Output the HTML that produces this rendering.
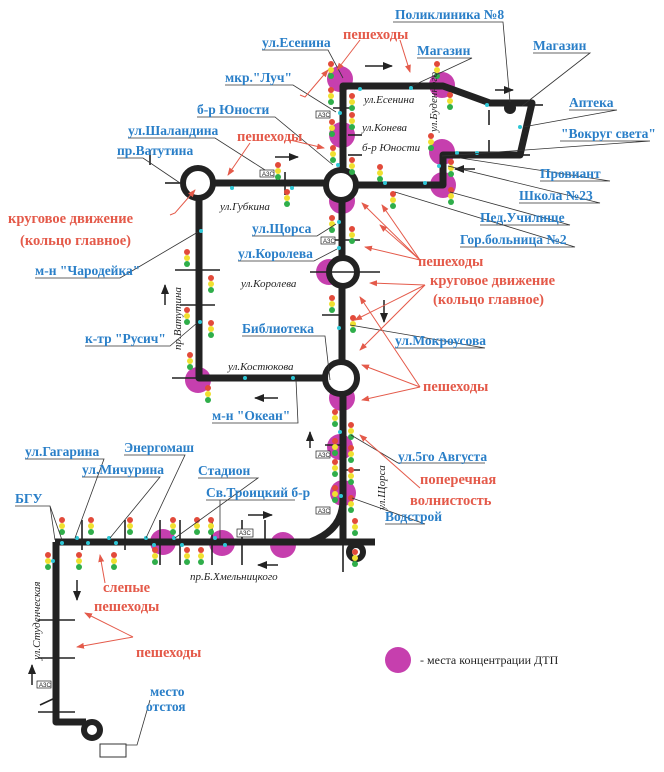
<!DOCTYPE html>
<html><head><meta charset="utf-8"><style>
body{margin:0;background:#fff}
svg{display:block}
.b{font-family:"Liberation Serif",serif;font-weight:bold;font-size:13.5px;fill:#2a7fc8}
.r{font-family:"Liberation Serif",serif;font-weight:bold;font-size:14.5px;fill:#e45a4a}
.i{font-family:"Liberation Serif",serif;font-style:italic;font-size:11px;fill:#222}
.ln{stroke:#333;stroke-width:0.8;fill:none}
.ra{stroke:#e45a4a;stroke-width:1;fill:none;marker-end:url(#ah)}
.rd{stroke:#222;stroke-width:7;fill:none;stroke-linejoin:round}
.cr{stroke:#222;stroke-width:1.6}
.m{fill:#c63fae}
.c{fill:#2ec7d6}
</style></head><body>
<svg width="664" height="772" viewBox="0 0 664 772" xmlns="http://www.w3.org/2000/svg">
<defs>
<marker id="ah" markerWidth="8" markerHeight="8" refX="7" refY="4" orient="auto" markerUnits="userSpaceOnUse"><path d="M0,1 L8,4 L0,7 Z" fill="#e45a4a"/></marker>
<marker id="bh" markerWidth="10" markerHeight="8" refX="9" refY="4" orient="auto" markerUnits="userSpaceOnUse"><path d="M0,0 L10,4 L0,8 Z" fill="#222"/></marker>
<g id="tl"><circle cx="0" cy="0" r="3" fill="#e24a3a"/><circle cx="0" cy="6" r="3" fill="#f0e030"/><circle cx="0" cy="12" r="3" fill="#2fae4a"/></g>
</defs>
<g class="m">
<circle cx="340" cy="79" r="13"/><circle cx="442" cy="85" r="13"/><circle cx="342" cy="135" r="13"/>
<circle cx="442" cy="152" r="13"/><circle cx="443" cy="185" r="13"/><circle cx="342" cy="201" r="13"/>
<circle cx="329" cy="272" r="13"/><circle cx="198" cy="380" r="13"/><circle cx="342" cy="398" r="13"/>
<circle cx="340" cy="447" r="13"/><circle cx="343" cy="493" r="13"/><circle cx="163" cy="542" r="13"/>
<circle cx="222" cy="543" r="13"/><circle cx="283" cy="545" r="13"/><circle cx="398" cy="660" r="13"/>
</g>
<g class="rd">
<path d="M343,185 V86 H443 L490,103 H532 L520,155 H443 V185 H340"/>
<path d="M198,183 H340"/>
<path d="M199,183 V378 H340"/>
<path d="M342,185 V378"/>
<path d="M343,378 V545"/>
<path d="M55,542 H375"/>
<path d="M310,542 Q343,530 343,500"/>
<path d="M56,542 V722 H86"/>
</g>
<g fill="#fff" stroke="#222" stroke-width="6">
<circle cx="198" cy="183" r="15"/><circle cx="341" cy="185" r="15"/><circle cx="343" cy="272" r="14"/>
<circle cx="341" cy="378" r="16"/><circle cx="92" cy="730" r="8"/><circle cx="356" cy="552" r="7"/>
</g>
<circle cx="510" cy="108" r="6" fill="#222"/>
<rect x="100" y="744" width="26" height="13" fill="#fff" stroke="#333"/>
<g class="cr">
<line x1="150" y1="165" x2="150" y2="150"/><line x1="165" y1="183" x2="180" y2="183"/><line x1="220" y1="183" x2="232" y2="183"/>
<line x1="285" y1="172" x2="285" y2="195"/><line x1="333" y1="108" x2="352" y2="108"/><line x1="348" y1="135" x2="362" y2="135"/>
<line x1="348" y1="155" x2="362" y2="155"/><line x1="330" y1="240" x2="360" y2="240"/><line x1="310" y1="272" x2="380" y2="272"/>
<line x1="322" y1="315" x2="342" y2="315"/><line x1="175" y1="270" x2="220" y2="270"/><line x1="180" y1="305" x2="215" y2="305"/>
<line x1="172" y1="378" x2="199" y2="378"/><line x1="489" y1="110" x2="489" y2="125"/><line x1="489" y1="140" x2="489" y2="155"/>
<line x1="534" y1="105" x2="543" y2="105"/><line x1="520" y1="155" x2="530" y2="155"/><line x1="325" y1="445" x2="342" y2="445"/>
<line x1="343" y1="470" x2="360" y2="470"/><line x1="82" y1="520" x2="82" y2="550"/><line x1="125" y1="520" x2="125" y2="550"/>
<line x1="160" y1="520" x2="160" y2="565"/><line x1="180" y1="520" x2="180" y2="565"/><line x1="212" y1="520" x2="212" y2="565"/>
<line x1="242" y1="520" x2="242" y2="565"/><line x1="265" y1="520" x2="265" y2="545"/><line x1="38" y1="620" x2="75" y2="620"/>
<line x1="38" y1="658" x2="75" y2="658"/><line x1="38" y1="712" x2="75" y2="712"/><line x1="40" y1="705" x2="55" y2="698"/>
<line x1="343" y1="545" x2="343" y2="572"/>
</g>
<g class="c">
<circle cx="340" cy="113" r="2"/><circle cx="360" cy="89" r="2"/><circle cx="411" cy="88" r="2"/><circle cx="487" cy="105" r="2"/>
<circle cx="520" cy="127" r="2"/><circle cx="457" cy="153" r="2"/><circle cx="477" cy="153" r="2"/><circle cx="439" cy="166" r="2"/>
<circle cx="425" cy="183" r="2"/><circle cx="385" cy="183" r="2"/><circle cx="338" cy="165" r="2"/><circle cx="292" cy="188" r="2"/>
<circle cx="232" cy="188" r="2"/><circle cx="201" cy="231" r="2"/><circle cx="200" cy="322" r="2"/><circle cx="245" cy="378" r="2"/>
<circle cx="293" cy="378" r="2"/><circle cx="339" cy="248" r="2"/><circle cx="339" cy="222" r="2"/><circle cx="339" cy="328" r="2"/>
<circle cx="340" cy="432" r="2"/><circle cx="341" cy="496" r="2"/><circle cx="77" cy="538" r="2"/><circle cx="88" cy="543" r="2"/>
<circle cx="109" cy="538" r="2"/><circle cx="116" cy="543" r="2"/><circle cx="146" cy="538" r="2"/><circle cx="62" cy="543" r="2"/>
<circle cx="154" cy="545" r="2"/><circle cx="174" cy="538" r="2"/><circle cx="182" cy="545" r="2"/><circle cx="215" cy="538" r="2"/><circle cx="225" cy="545" r="2"/><circle cx="53" cy="561" r="2"/>
</g>
<g>
<use href="#tl" x="331" y="64"/><use href="#tl" x="331" y="90"/><use href="#tl" x="352" y="96"/><use href="#tl" x="332" y="122"/>
<use href="#tl" x="352" y="115"/><use href="#tl" x="333" y="148"/><use href="#tl" x="352" y="160"/><use href="#tl" x="437" y="64"/>
<use href="#tl" x="450" y="95"/><use href="#tl" x="431" y="136"/><use href="#tl" x="451" y="162"/><use href="#tl" x="451" y="190"/>
<use href="#tl" x="380" y="167"/><use href="#tl" x="393" y="194"/><use href="#tl" x="278" y="165"/><use href="#tl" x="287" y="192"/>
<use href="#tl" x="332" y="218"/><use href="#tl" x="352" y="229"/><use href="#tl" x="332" y="298"/><use href="#tl" x="353" y="318"/>
<use href="#tl" x="187" y="252"/><use href="#tl" x="211" y="278"/><use href="#tl" x="187" y="310"/><use href="#tl" x="211" y="323"/>
<use href="#tl" x="190" y="355"/><use href="#tl" x="208" y="388"/><use href="#tl" x="335" y="412"/><use href="#tl" x="351" y="425"/>
<use href="#tl" x="335" y="441"/><use href="#tl" x="351" y="448"/><use href="#tl" x="335" y="462"/><use href="#tl" x="351" y="470"/>
<use href="#tl" x="335" y="488"/><use href="#tl" x="351" y="498"/><use href="#tl" x="355" y="521"/><use href="#tl" x="355" y="552"/>
<use href="#tl" x="62" y="520"/><use href="#tl" x="48" y="555"/><use href="#tl" x="91" y="520"/><use href="#tl" x="79" y="555"/>
<use href="#tl" x="114" y="555"/><use href="#tl" x="130" y="520"/><use href="#tl" x="155" y="550"/><use href="#tl" x="173" y="520"/>
<use href="#tl" x="187" y="550"/><use href="#tl" x="197" y="520"/><use href="#tl" x="201" y="550"/><use href="#tl" x="211" y="520"/>
</g>
<g font-family="Liberation Sans,sans-serif" font-size="6" fill="#222">
<rect x="316" y="111" width="14" height="7" fill="#fff" stroke="#222" stroke-width="0.7"/><text x="318" y="117">АЗС</text>
<rect x="260" y="170" width="14" height="7" fill="#fff" stroke="#222" stroke-width="0.7"/><text x="262" y="176">АЗС</text>
<rect x="321" y="237" width="14" height="7" fill="#fff" stroke="#222" stroke-width="0.7"/><text x="323" y="243">АЗС</text>
<rect x="316" y="451" width="14" height="7" fill="#fff" stroke="#222" stroke-width="0.7"/><text x="318" y="457">АЗС</text>
<rect x="316" y="507" width="14" height="7" fill="#fff" stroke="#222" stroke-width="0.7"/><text x="318" y="513">АЗС</text>
<rect x="237" y="529" width="16" height="8" fill="#fff" stroke="#222" stroke-width="0.7"/><text x="239" y="535">АЗС</text>
<rect x="37" y="681" width="14" height="7" fill="#fff" stroke="#222" stroke-width="0.7"/><text x="39" y="687">АЗС</text>
</g>
<g stroke="#222" stroke-width="1.5" marker-end="url(#bh)">
<line x1="365" y1="66" x2="392" y2="66"/><line x1="275" y1="157" x2="298" y2="157"/><line x1="495" y1="90" x2="513" y2="90"/>
<line x1="475" y1="169" x2="455" y2="169"/>
<line x1="384" y1="300" x2="384" y2="322"/><line x1="165" y1="305" x2="165" y2="285"/><line x1="278" y1="398" x2="255" y2="398"/>
<line x1="310" y1="448" x2="310" y2="432"/><line x1="248" y1="515" x2="272" y2="515"/><line x1="278" y1="565" x2="258" y2="565"/>
<line x1="77" y1="580" x2="77" y2="600"/><line x1="32" y1="685" x2="32" y2="665"/>
</g>
<text class="i" x="364" y="103">ул.Есенина</text>
<text class="i" x="220" y="210">ул.Губкина</text>
<text class="i" x="241" y="287">ул.Королева</text>
<text class="i" x="228" y="370">ул.Костюкова</text>
<text class="i" x="190" y="580">пр.Б.Хмельницкого</text>
<text class="i" transform="translate(181,350) rotate(-90)">пр.Ватутина</text>
<text class="i" transform="translate(385,510) rotate(-90)">ул.Щорса</text>
<text class="i" transform="translate(40,660) rotate(-90)">ул.Студенческая</text>
<text class="i" font-size="7" transform="translate(437,132) rotate(-90)">ул.Буденного</text>
<text class="i" font-size="5" x="362" y="131">ул.Конева</text>
<text class="i" font-size="5" x="362" y="151">б-р Юности</text>
<g class="ln">
<path d="M393,22 H503 L510,102"/><path d="M262,50 H328 L343,78"/><path d="M417,58 H472 L412,86"/>
<path d="M533,53 H590 L522,106"/><path d="M225,85 H293 L336,112"/><path d="M197,117 H275 L333,165"/>
<path d="M569,110 H617 L523,127"/><path d="M128,138 H215 L265,170"/><path d="M560,141 H650 L442,156"/>
<path d="M117,158 H143 L180,183"/><path d="M540,181 H610 L460,158"/><path d="M519,203 H600 L448,166"/>
<path d="M480,225 H570 L450,192"/><path d="M460,247 H575 L395,192"/><path d="M252,236 H317 L336,224"/>
<path d="M238,261 H314 L337,249"/><path d="M35,278 H120 L198,232"/><path d="M242,336 H325 L330,380"/>
<path d="M395,348 H485 L350,325"/><path d="M85,346 H170 L197,323"/><path d="M212,423 H298 L296,380"/>
<path d="M398,463 H485"/><path d="M398,463 L351,435"/><path d="M25,459 H104 L75,538"/><path d="M82,477 H160 L110,538"/>
<path d="M124,455 H185 L146,538"/><path d="M198,478 H258 L175,538"/><path d="M206,500 H295 L220,500 V540"/>
<path d="M15,506 H50 L55,540 M50,506 L62,540"/><path d="M385,524 H425 L352,498"/><path d="M150,700 L137,745 H126"/>
</g>
<g>
<path class="ra" d="M360,40 L337,70"/><path class="ra" d="M400,40 L410,72"/>
<path class="ra" d="M300,95 L305,97 L328,70"/><path class="ra" d="M290,140 L324,148"/><path class="ra" d="M250,143 L228,175"/>
<path class="ra" d="M170,215 L175,213 L195,190"/>
<path class="ra" d="M420,260 L362,203"/><path class="ra" d="M420,260 L382,205"/><path class="ra" d="M420,260 L365,247"/><path class="ra" d="M420,260 L380,225"/>
<path class="ra" d="M425,285 L370,283"/><path class="ra" d="M425,285 L355,320"/><path class="ra" d="M425,285 L360,350"/>
<path class="ra" d="M420,387 L360,297"/><path class="ra" d="M420,387 L362,365"/><path class="ra" d="M420,387 L362,400"/>
<path class="ra" d="M420,488 L360,435"/>
<path class="ra" d="M105,583 L100,555"/><path class="ra" d="M133,637 L85,613"/><path class="ra" d="M133,637 L77,647"/>
</g>
<g class="b">
<text x="395" y="19">Поликлиника №8</text>
<text x="262" y="47">ул.Есенина</text>
<text x="417" y="55">Магазин</text>
<text x="533" y="50">Магазин</text>
<text x="225" y="82">мкр."Луч"</text>
<text x="197" y="114">б-р Юности</text>
<text x="569" y="107">Аптека</text>
<text x="128" y="135">ул.Шаландина</text>
<text x="561" y="138">"Вокруг света"</text>
<text x="117" y="155">пр.Ватутина</text>
<text x="540" y="178">Провиант</text>
<text x="519" y="200">Школа №23</text>
<text x="480" y="222">Пед.Училище</text>
<text x="460" y="244">Гор.больница №2</text>
<text x="252" y="233">ул.Щорса</text>
<text x="238" y="258">ул.Королева</text>
<text x="35" y="275">м-н "Чародейка"</text>
<text x="242" y="333">Библиотека</text>
<text x="395" y="345">ул.Мокроусова</text>
<text x="85" y="343">к-тр "Русич"</text>
<text x="212" y="420">м-н "Океан"</text>
<text x="398" y="461">ул.5го Августа</text>
<text x="25" y="456">ул.Гагарина</text>
<text x="124" y="452">Энергомаш</text>
<text x="82" y="474">ул.Мичурина</text>
<text x="198" y="475">Стадион</text>
<text x="206" y="497">Св.Троицкий б-р</text>
<text x="15" y="503">БГУ</text>
<text x="385" y="521">Водстрой</text>
<text x="150" y="696">место</text>
<text x="146" y="711">отстоя</text>
</g>
<g class="r">
<text x="343" y="39">пешеходы</text>
<text x="237" y="141">пешеходы</text>
<text x="8" y="223">круговое движение</text>
<text x="20" y="245">(кольцо главное)</text>
<text x="418" y="266">пешеходы</text>
<text x="430" y="285">круговое движение</text>
<text x="433" y="304">(кольцо главное)</text>
<text x="423" y="391">пешеходы</text>
<text x="420" y="484">поперечная</text>
<text x="410" y="505">волнистость</text>
<text x="103" y="592">слепые</text>
<text x="94" y="611">пешеходы</text>
<text x="136" y="657">пешеходы</text>
</g>
<text x="420" y="664" font-family="Liberation Serif,serif" font-size="12" fill="#222">- места концентрации ДТП</text>
</svg>
</body></html>
